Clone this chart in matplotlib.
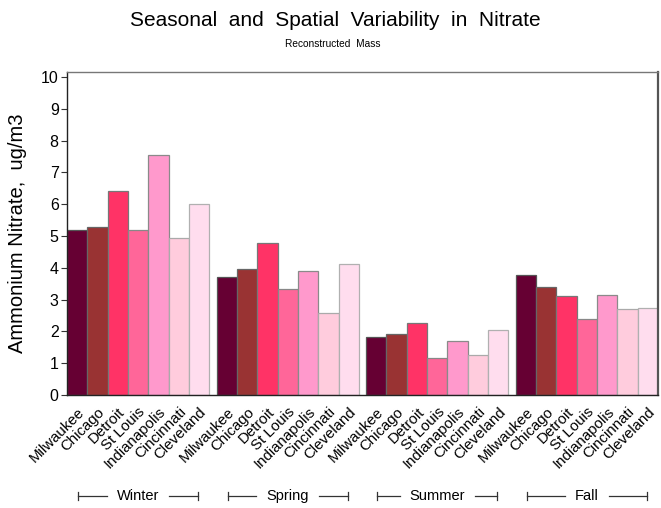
import matplotlib
matplotlib.use("Agg")
import matplotlib.pyplot as plt
from matplotlib.lines import Line2D

plt.rcParams['font.family'] = ['Liberation Sans', 'DejaVu Sans']

seasons = ["Winter", "Spring", "Summer", "Fall"]
cities = ["Milwaukee", "Chicago", "Detroit", "St Louis", "Indianapolis", "Cincinnati", "Cleveland"]
winter = [5.20, 5.30, 6.43, 5.18, 7.55, 4.93, 6.00]
spring = [3.70, 3.96, 4.79, 3.34, 3.91, 2.57, 4.12]
summer = [1.83, 1.91, 2.27, 1.16, 1.69, 1.25, 2.04]
fall = [3.77, 3.40, 3.11, 2.40, 3.16, 2.69, 2.74]
values = [winter, spring, summer, fall]
colors = ["#660033", "#993333", "#FF3366", "#FF6699", "#FF99CC", "#FFCCDD", "#FFDDEE"]
edge_colors = ["#555555", "#666666", "#777777", "#888888", "#8a8a8a", "#aaaaaa", "#b0b0b0"]

W, H = 661, 508
fig = plt.figure(figsize=(W / 100, H / 100), dpi=100)
ax = fig.add_axes([67 / W, 1 - 395 / H, (658 - 67) / W, (395 - 72) / H])

pitch = 7.36
xs, labels = [], []
for g, vals in enumerate(values):
    for i, v in enumerate(vals):
        x = g * pitch + i
        ax.bar(x, v, width=1.0, color=colors[i], edgecolor=edge_colors[i],
               linewidth=0.9, align='center', zorder=2)
        xs.append(x)
        labels.append(cities[i])

ax.set_xlim(-0.5, 3 * pitch + 6.5)
ax.set_ylim(0, 10.16)
ax.set_yticks(range(0, 11))
ax.set_yticklabels([str(v) for v in range(0, 11)], fontsize=11.5)
ax.tick_params(axis='y', direction='out', length=4, width=0.8, pad=2, color='#333333')
ax.set_xticks(xs)
ax.set_xticklabels(labels, rotation=45, ha='right', va='top',
                   rotation_mode='anchor', fontsize=10.8)
ax.tick_params(axis='x', length=0, pad=7)

for s in ['left', 'bottom']:
    ax.spines[s].set_color('#222222')
    ax.spines[s].set_linewidth(1.0)
ax.spines['top'].set_color('#777777')
ax.spines['top'].set_linewidth(1.0)
ax.spines['right'].set_color('#555555')
ax.spines['right'].set_linewidth(1.6)

ax.set_ylabel("Ammonium Nitrate,  ug/m3", fontsize=14.5, labelpad=10)

fig.text(0.507, 1 - 20 / H, "Seasonal  and  Spatial  Variability  in  Nitrate",
         ha='center', va='center', fontsize=15)
fig.text(0.504, 1 - 44 / H, "Reconstructed  Mass", ha='center', va='center', fontsize=7.3)

# season brackets
renderer = fig.canvas.get_renderer()
y_br = 1 - 496 / H
for g, name in enumerate(seasons):
    x0_data = g * pitch + 0.05
    x1_data = g * pitch + 5.95
    x0 = fig.transFigure.inverted().transform(ax.transData.transform((x0_data, 0)))[0]
    x1 = fig.transFigure.inverted().transform(ax.transData.transform((x1_data, 0)))[0]
    xc = (x0 + x1) / 2
    t = fig.text(xc, y_br, name, ha='center', va='center', fontsize=10.5)
    tw = t.get_window_extent(renderer).width
    half_text = (tw / 2 + 10) / W
    tick_h = 4 / H
    fig.add_artist(Line2D([x0, xc - half_text], [y_br, y_br], color='#333333', lw=0.9))
    fig.add_artist(Line2D([xc + half_text, x1], [y_br, y_br], color='#333333', lw=0.9))
    fig.add_artist(Line2D([x0, x0], [y_br - tick_h, y_br + tick_h], color='#333333', lw=0.9))
    fig.add_artist(Line2D([x1, x1], [y_br - tick_h, y_br + tick_h], color='#333333', lw=0.9))

fig.savefig("out.png", dpi=100)
